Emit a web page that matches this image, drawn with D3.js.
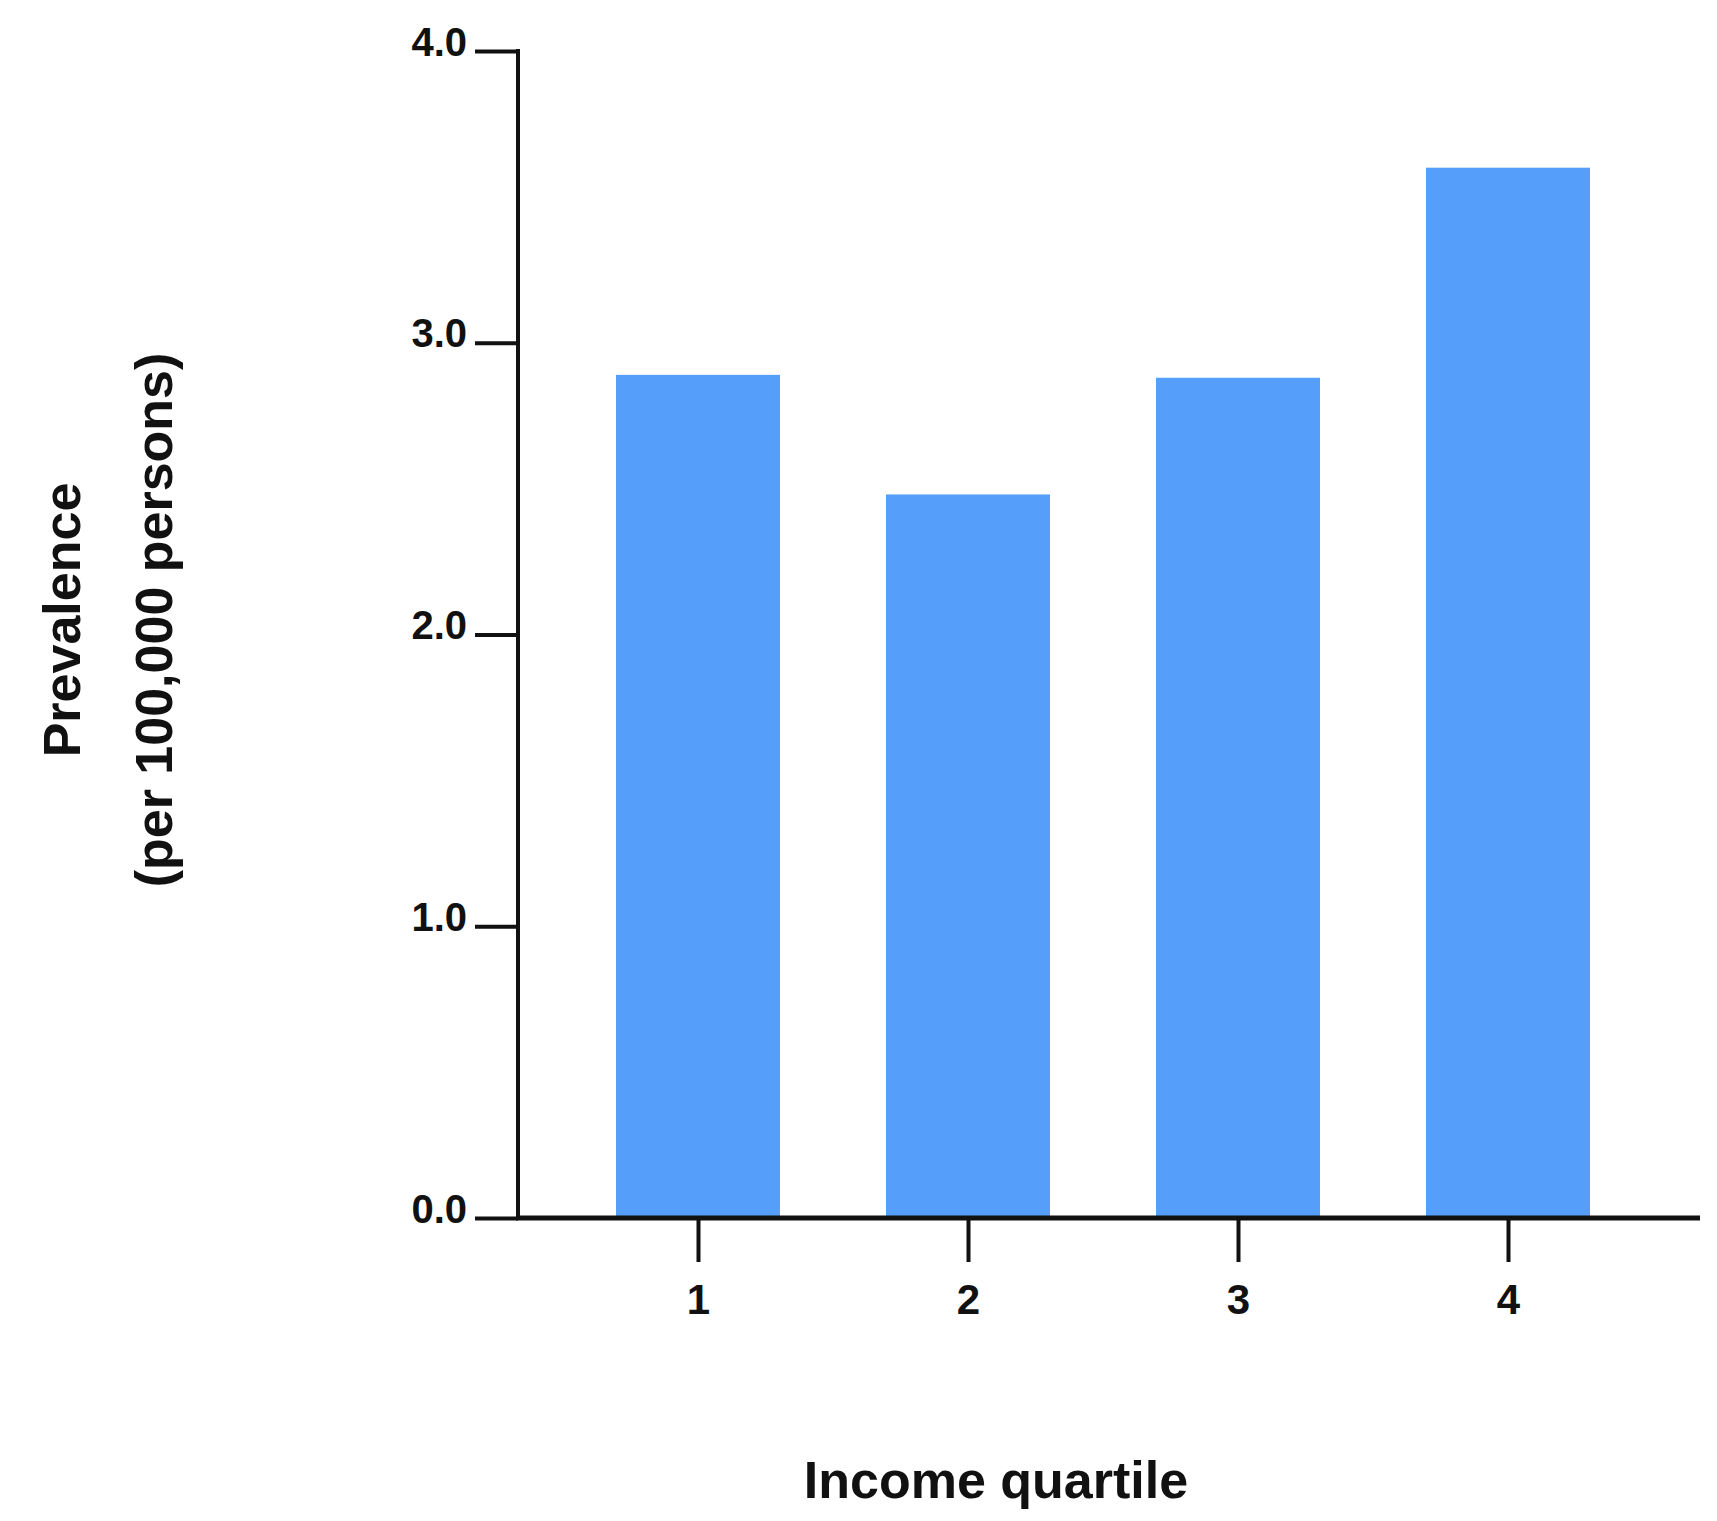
<!DOCTYPE html>
<html>
<head>
<meta charset="utf-8">
<script src="https://cdn.jsdelivr.net/npm/d3@7"></script>
<style>
  body { margin: 0; background: #fff; }
  text { font-family: "Liberation Sans", Arial, sans-serif; font-weight: bold; fill: #111; }
</style>
</head>
<body>
<div id="chart"></div>
<script>
var quartiles = ['1', '2', '3', '4'];
var prevalence = [2.89, 2.48, 2.88, 3.60];
var yTicks = [0, 1, 2, 3, 4];

var width = 1717;
var height = 1521;

var svg = d3.select('#chart').append('svg')
    .attr('width', width)
    .attr('height', height);

// axis positions
var yZero = 1218, yTop = 51, xLeft = 518, xRight = 1700;

var yScale = d3.scaleLinear().domain([0, 4]).range([yZero, yTop]);
var xScale = d3.scalePoint().domain(quartiles).range([563, 1643]).padding(0.5);
var barWidth = 164;

// bars
svg.selectAll('rect.bar')
    .data(prevalence)
    .enter()
    .append('rect')
    .attr('class', 'bar')
    .attr('x', (d, i) => xScale(quartiles[i]) - barWidth / 2)
    .attr('y', d => yScale(d))
    .attr('width', barWidth)
    .attr('height', d => yZero - yScale(d))
    .attr('fill', '#559ffb');

// y axis
var yAxis = d3.axisLeft(yScale)
    .tickValues(yTicks)
    .tickFormat(d3.format('.1f'))
    .tickSize(43)
    .tickPadding(8);
var yg = svg.append('g')
    .attr('transform', `translate(${xLeft},0)`)
    .call(yAxis);
yg.select('.domain').remove();
yg.append('line').attr('x1', 0).attr('x2', 0).attr('y1', yTop - 2).attr('y2', yZero + 2)
    .attr('stroke', '#111').attr('stroke-width', 4);
yg.selectAll('.tick line').attr('stroke', '#111').attr('stroke-width', 4);
yg.selectAll('.tick text').style('font-size', '40px').attr('dy', '0.1em');

// x axis
var xAxis = d3.axisBottom(xScale).tickSize(44).tickPadding(22);
var xg = svg.append('g')
    .attr('transform', `translate(0,${yZero})`)
    .call(xAxis);
xg.select('.domain').remove();
xg.append('line').attr('x1', xLeft - 2).attr('x2', xRight).attr('y1', 0).attr('y2', 0)
    .attr('stroke', '#111').attr('stroke-width', 5);
xg.selectAll('.tick line').attr('stroke', '#111').attr('stroke-width', 4);
xg.selectAll('.tick text').style('font-size', '42px');

// axis titles
svg.append('text')
    .attr('x', 996).attr('y', 1498)
    .attr('text-anchor', 'middle')
    .style('font-size', '52px')
    .text('Income quartile');

var yt = svg.append('text')
    .attr('transform', 'translate(0,620) rotate(-90)')
    .attr('text-anchor', 'middle')
    .style('font-size', '52px');
yt.append('tspan').attr('x', 0).attr('y', 80).text('Prevalence');
yt.append('tspan').attr('x', 0).attr('y', 172).text('(per 100,000 persons)');
</script>
</body>
</html>
